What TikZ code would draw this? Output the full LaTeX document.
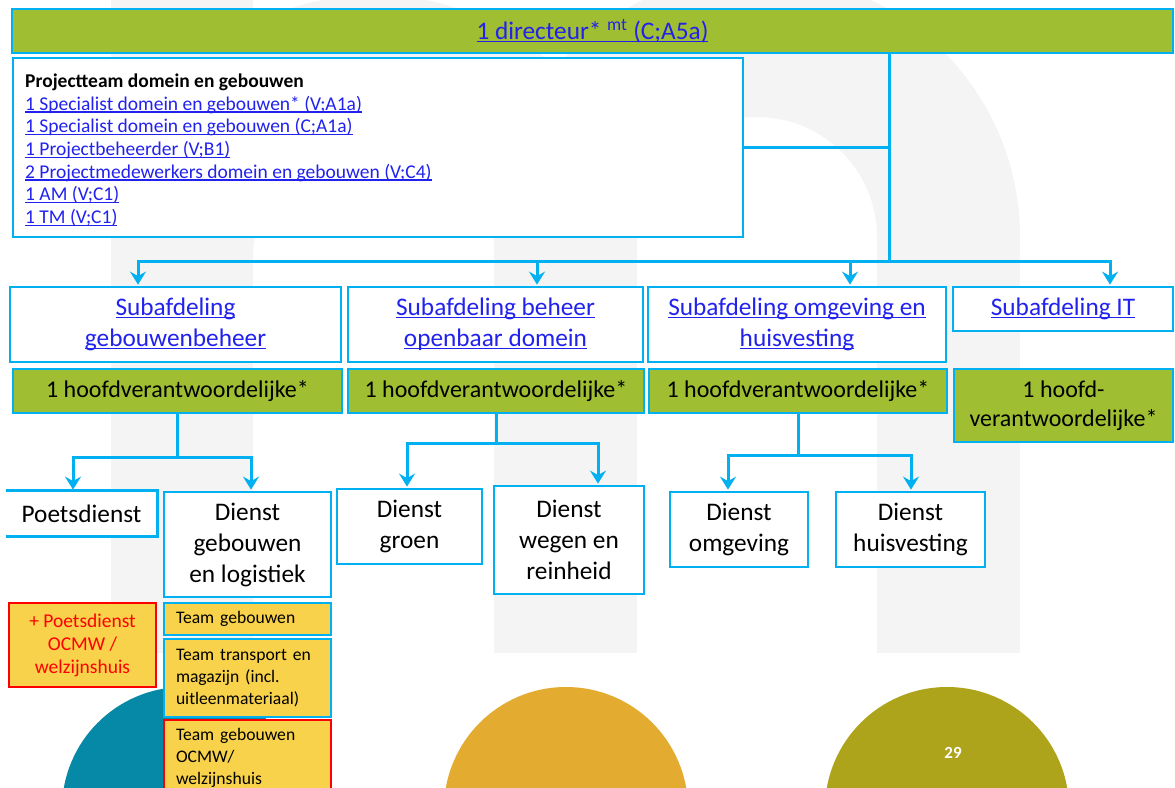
\documentclass[tikz,border=0pt]{standalone}
\usepackage{fontspec}
\setmainfont{Carlito}
\usetikzlibrary{arrows.meta}
\definecolor{cy}{HTML}{00B0F0}
\definecolor{gr}{HTML}{9FBE32}
\definecolor{ye}{HTML}{F8D24A}
\definecolor{lk}{HTML}{2222EE}
\definecolor{wm}{HTML}{F4F4F4}
\definecolor{tl}{HTML}{0589A6}
\definecolor{orc}{HTML}{E3AC30}
\definecolor{olv}{HTML}{AEA41C}
\newcommand\lnk[1]{\leavevmode\setbox0\hbox{#1}\rlap{\rule[-2.6pt]{\wd0}{1.3pt}}\box0}
\tikzset{
  rect/.style args={#1,#2,#3,#4}{at={({(#1+#3)/2},{(#2+#4)/2})}, minimum width={(#3-#1)*1pt}, minimum height={(#4-#2)*1pt}},
  bx/.style={draw=cy, line width=2.8pt, fill=white, inner sep=0pt, align=center, text=black},
  gbx/.style={bx, fill=gr},
  ybx/.style={bx, fill=ye},
  rbx/.style={ybx, draw=red},
  conn/.style={draw=cy, line width=3pt},
  arr/.style={conn, -{Stealth[length=13pt,width=16pt,inset=4.5pt]}, shorten >=1pt},
  big/.style={font=\fontsize{25.3}{31}\selectfont},
  hfd/.style={font=\fontsize{24}{28.5}\selectfont},
  small/.style={font=\fontsize{17.6}{22}\selectfont, align=left, text width=143pt}
}
\begin{document}
\begin{tikzpicture}[x=1pt,y=-1pt]
\useasboundingbox (0,0) rectangle (1175,787);
\fill[white] (0,0) rectangle (1175,787);
% watermark
\fill[wm] (111,0) rectangle (253,653);
\fill[wm] (111,258) arc[start angle=180,end angle=360,radius=263] -- (495,258) arc[start angle=0,end angle=-180,radius=121] -- cycle;
\fill[wm] (494,237) arc[start angle=180,end angle=360,radius=263] -- (877,237) arc[start angle=0,end angle=-180,radius=120] -- cycle;
\fill[wm] (494,237) rectangle (637,653);
\fill[wm] (877,237) rectangle (1020,653);
% circles
\fill[tl] (184,809) circle[radius=122];
\fill[orc] (566,809) circle[radius=122];
\fill[olv] (947,809) circle[radius=122];
\node[text=white, font=\fontsize{17}{20}\selectfont\bfseries] (pg) at (953,753) {29};
% top
\node[gbx, text=lk, big, rect={12,9,1173,53}] (dir) {\lnk{1 directeur* \textsuperscript{mt} (C;A5a)}};
\node[bx, rect={13,58,743,237}] (pt) {};
\node[anchor=west, align=left, inner sep=0pt, text=lk, font=\fontsize{19.5}{22.7}\selectfont] (ptt) at (25,150)
  {\textcolor{black}{\textbf{Projectteam domein en gebouwen}}\\
   \lnk{1 Specialist domein en gebouwen* (V;A1a)}\\
   \lnk{1 Specialist domein en gebouwen (C;A1a)}\\
   \lnk{1 Projectbeheerder (V;B1)}\\
   \lnk{2 Projectmedewerkers domein en gebouwen (V;C4)}\\
   \lnk{1 AM (V;C1)}\\
   \lnk{1 TM (V;C1)}};
% subafdelingen
\node[bx, text=lk, big, rect={10,287,341,362}] (s1) {\lnk{Subafdeling}\\\lnk{gebouwenbeheer}};
\node[bx, text=lk, big, rect={348,287,643,362}] (s2) {\lnk{Subafdeling beheer}\\\lnk{openbaar domein}};
\node[bx, text=lk, big, rect={648,287,946,362}] (s3) {\lnk{Subafdeling omgeving en}\\\lnk{huisvesting}};
\node[bx, text=lk, big, rect={953,287,1173,331}] (s4) {\lnk{Subafdeling IT}};
% hoofdverantwoordelijken
\node[gbx, hfd, rect={13,369,342,413}] (h1) {1 hoofdverantwoordelijke*};
\node[gbx, hfd, rect={348,369,644,413}] (h2) {1 hoofdverantwoordelijke*};
\node[gbx, hfd, rect={649,369,947,413}] (h3) {1 hoofdverantwoordelijke*};
\node[gbx, hfd, rect={954,369,1173,442}] (h4) {1 hoofd-\\verantwoordelijke*};
% diensten
\node[bx, draw=none, big, rect={7,492,156,535}] (d1) {Poetsdienst};
\draw[conn, line width=2.8pt] (d1.north west) -- (d1.north east) -- (d1.south east) -- (d1.south west);
\node[bx, big, rect={164,492,331,597}] (d2) {Dienst\\gebouwen\\en logistiek};
\node[bx, big, rect={337,489,482,564}] (d3) {Dienst\\groen};
\node[bx, big, rect={494,486,644,594}] (d4) {Dienst\\wegen en\\reinheid};
\node[bx, big, rect={670,492,808,567}] (d5) {Dienst\\omgeving};
\node[bx, big, rect={836,492,985,567}] (d6) {Dienst\\huisvesting};
% teams
\node[rbx, text=red, font=\fontsize{19.5}{23}\selectfont, rect={9,603,156,687}] (y0) {+ Poetsdienst\\OCMW /\\welzijnshuis};
\node[ybx, small, rect={164,603,331,635}] (y1) {Team gebouwen};
\node[ybx, small, rect={164,639,331,717}] (y2) {Team transport en\\magazijn (incl.\\uitleenmateriaal)};
\node[rbx, small, rect={164,720,331,796}] (y3) {Team gebouwen\\OCMW/\\welzijnshuis};
% connectors level 1
\coordinate (j0) at (889,147);
\coordinate (bar) at (889,261);
\coordinate (a1) at (138,261);
\coordinate (a2) at (537,261);
\coordinate (a3) at (850,261);
\coordinate (a4) at (1110,261);
\draw[conn] (dir.south -| bar) -- (bar);
\draw[conn] (pt.east |- j0) -- (j0);
\draw[arr] (bar) -| (s1.north -| a1);
\draw[arr] (bar) -| (s4.north -| a4);
\draw[arr] (a2) -- (s2.north -| a2);
\draw[arr] (a3) -- (s3.north -| a3);
% connectors level 2
\coordinate (c1l) at (73,457);
\coordinate (c1r) at (251,457);
\coordinate (c2l) at (407,443);
\coordinate (c2r) at (598,443);
\coordinate (c3l) at (728,455);
\coordinate (c3r) at (911,455);
\draw[arr] (h1.south) |- (c1l) -- (d1.north -| c1l);
\draw[arr] (h1.south) |- (c1r) -- (d2.north -| c1r);
\draw[arr] (h2.south) |- (c2l) -- (d3.north -| c2l);
\draw[arr] (h2.south) |- (c2r) -- (d4.north -| c2r);
\draw[arr] (h3.south) |- (c3l) -- (d5.north -| c3l);
\draw[arr] (h3.south) |- (c3r) -- (d6.north -| c3r);
\end{tikzpicture}
\end{document}
